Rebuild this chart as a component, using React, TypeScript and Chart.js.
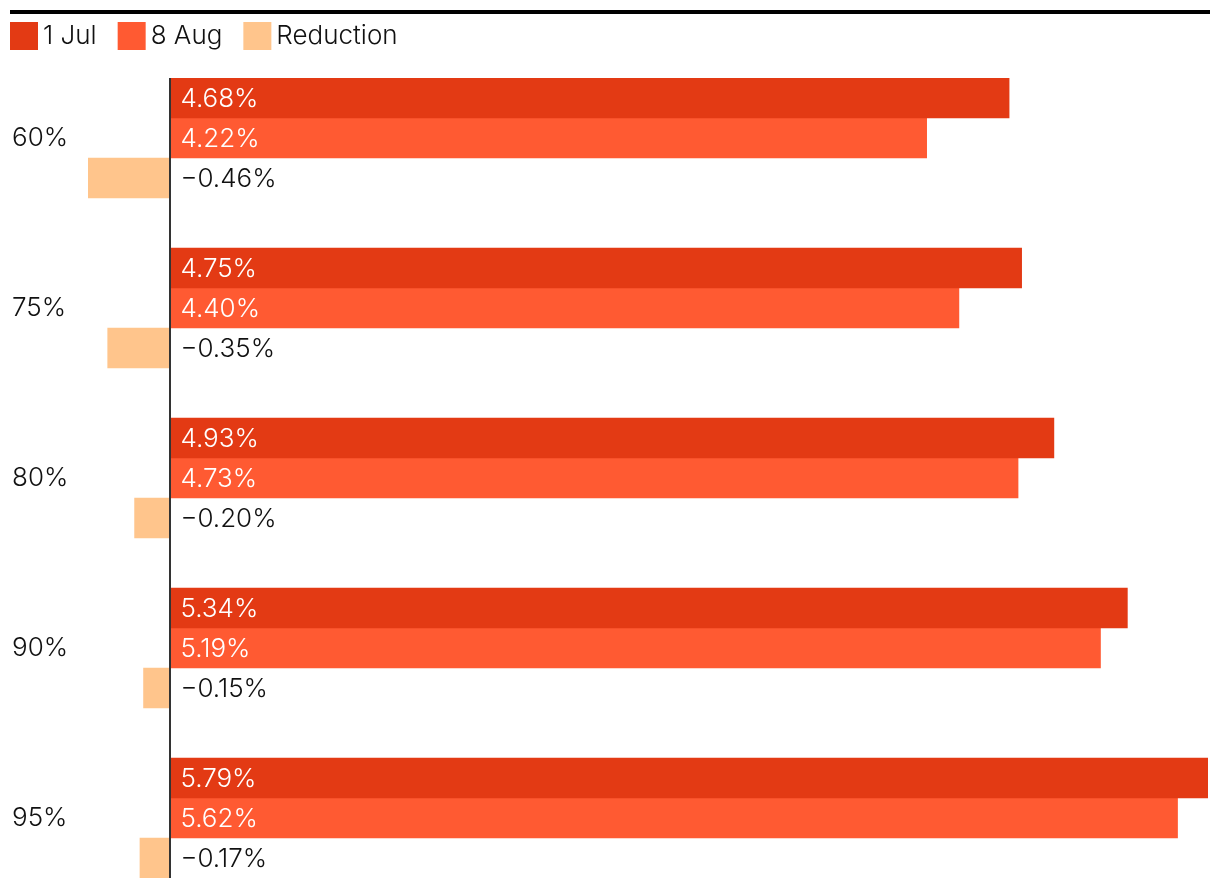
import React, { useEffect, useRef } from "react";
import { Chart, registerables } from "chart.js";

Chart.register(...registerables);

// ---- data ----
const categories = ["60%", "75%", "80%", "90%", "95%"];
const seriesNames = ["1 Jul", "8 Aug", "Reduction"];
const jul1 = [4.68, 4.75, 4.93, 5.34, 5.79];
const aug8 = [4.22, 4.4, 4.73, 5.19, 5.62];
const reduction = [-0.46, -0.35, -0.2, -0.15, -0.17];
const seriesColors = ["#E33A14", "#FF5A32", "#FFC58C"];

const FONT = "Inter, 'Noto Sans', sans-serif";
const FONT_SIZE = 26;
const FONT_WEIGHT = 300;
const TEXT_COLOR = "#111111";

const fmt = (v: number) => (v < 0 ? "\u2212" : "") + Math.abs(v).toFixed(2) + "%";

const overlayPlugin = {
  id: "overlay",
  beforeDraw(chart: any) {
    const ctx = chart.ctx;
    ctx.save();
    ctx.fillStyle = "#ffffff";
    ctx.fillRect(0, 0, chart.width, chart.height);
    // top rule
    ctx.fillStyle = "#000000";
    ctx.fillRect(10, 10, 1200, 4);
    // legend
    ctx.font = `${FONT_WEIGHT} 26px ${FONT}`;
    ctx.textBaseline = "middle";
    ctx.textAlign = "left";
    let x = 10;
    chart.data.datasets.forEach((ds: any) => {
      ctx.fillStyle = ds.backgroundColor;
      ctx.fillRect(x, 22, 28, 28);
      ctx.fillStyle = TEXT_COLOR;
      ctx.fillText(ds.label, x + 33, 36);
      x += 33 + ctx.measureText(ds.label).width + 21;
    });
    ctx.restore();
  },
  afterDatasetsDraw(chart: any) {
    const ctx = chart.ctx;
    const xs = chart.scales.x;
    const zero = xs.getPixelForValue(0);
    ctx.save();
    ctx.font = `${FONT_WEIGHT} ${FONT_SIZE}px ${FONT}`;
    ctx.textBaseline = "middle";
    ctx.textAlign = "left";
    chart.data.datasets.forEach((ds: any, di: number) => {
      const meta = chart.getDatasetMeta(di);
      meta.data.forEach((el: any, i: number) => {
        const v = ds.data[i].x;
        ctx.fillStyle = v >= 0 ? "#ffffff" : TEXT_COLOR;
        ctx.fillText(fmt(v), zero + 10, el.y + 1);
      });
    });
    // zero axis line
    ctx.fillStyle = "#333333";
    ctx.fillRect(Math.round(zero) - 1, chart.chartArea.top, 2, chart.chartArea.bottom - chart.chartArea.top);
    ctx.restore();
  },
};

export default function App() {
  const canvasRef = useRef<HTMLCanvasElement | null>(null);

  useEffect(() => {
    if (!canvasRef.current) return;
    const seriesValues = [jul1, aug8, reduction];
    const chart = new Chart(canvasRef.current, {
      type: "bar",
      data: {
        datasets: seriesNames.map((name, si) => ({
          label: name,
          data: seriesValues[si].map((v, i) => ({ x: v, y: i })),
          backgroundColor: seriesColors[si],
          borderWidth: 0,
          barThickness: 40,
        })),
      },
      options: {
        responsive: false,
        animation: false,
        devicePixelRatio: 1,
        indexAxis: "y",
        layout: { padding: { left: 12, right: 12, top: 78, bottom: 12 } },
        plugins: {
          legend: { display: false },
          tooltip: { enabled: false },
        },
        scales: {
          x: {
            type: "linear",
            min: -0.46,
            max: 5.79,
            display: false,
          },
          y: {
            type: "linear",
            reverse: true,
            offset: false,
            bounds: "data",
            grace: 0,
            min: -60 / 170,
            max: categories.length - 1 + 60 / 170,
            grid: { display: false, offset: false },
            border: { display: false },
            afterBuildTicks: (s: any) => {
              s.ticks = categories.map((_, i) => ({ value: i }));
            },
            afterFit: (s: any) => {
              s.width = 76;
              s.paddingTop = 0;
              s.paddingBottom = 0;
            },
            ticks: {
              autoSkip: false,
              crossAlign: "far",
              padding: 0,
              color: TEXT_COLOR,
              font: { family: FONT, size: FONT_SIZE, weight: FONT_WEIGHT },
              callback: (v: any) => categories[v as number],
            },
          },
        },
      } as any,
      plugins: [overlayPlugin],
    });
    return () => chart.destroy();
  }, []);

  return (
    <div style={{ position: "absolute", left: 0, top: 0, width: 1220, height: 890, background: "#fff" }}>
      <canvas ref={canvasRef} width={1220} height={890} style={{ display: "block" }} />
    </div>
  );
}
